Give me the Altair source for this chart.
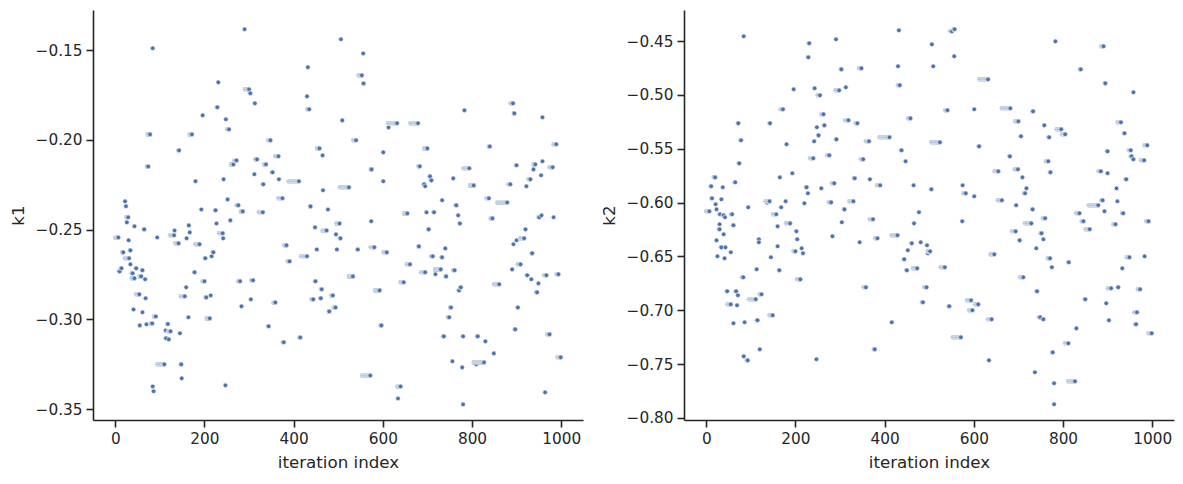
import altair as alt
import pandas as pd

# ---- k1 chain: run end iteration, value, run length ----
K1_END = [7, 84, 78, 143, 74, 22, 24, 29, 26, 43, 65, 94, 133, 132, 142, 30, 18, 34, 31, 34,
          14, 10, 47, 61, 39, 43, 58, 67, 54, 68, 41, 61, 91, 55, 70, 83, 118, 113, 124, 145,
          120, 114, 110, 148, 149, 84, 86, 156,
          290, 231, 300, 303, 313, 229, 196, 248, 255, 172, 272, 265, 318, 312, 180, 243, 252,
          276, 193, 225, 286, 331, 258, 227, 165, 167, 241, 160, 242, 189, 220, 216, 202, 178,
          200, 280, 309, 159, 204, 214, 304, 283, 164, 212, 247,
          506, 432, 430, 435, 509, 348, 458, 465, 366, 338, 353, 332, 412, 367, 466, 375, 438,
          477, 503, 448, 474, 495, 505, 452, 497, 384, 391, 430, 449, 463, 488, 444, 461, 494,
          480, 359, 344, 415, 378,
          556, 553, 557, 632, 679, 613, 540, 601, 575, 683, 601, 524, 693, 655, 574, 544, 581,
          609, 681, 661, 695, 533, 647, 593, 597, 572, 640, 634,
          783, 700, 840, 794, 706, 709, 758, 695, 804, 733, 838, 765, 698, 715, 769, 846, 773,
          703, 740, 712, 733, 730, 761, 718, 742, 861, 775, 771, 753, 749, 737, 780, 813, 830,
          849, 756, 778, 827, 810, 780,
          892, 895, 958, 989, 900, 942, 958, 938, 981, 955, 931, 922, 886, 879, 956, 951, 983,
          920, 917, 900, 893, 935, 909, 890, 924, 933, 967, 994, 949, 946, 903, 897, 974, 999,
          964]
K1_VAL = [-0.2544, -0.149, -0.197, -0.2059, -0.2149, -0.2343, -0.237, -0.2432, -0.246, -0.2482,
          -0.2499, -0.2544, -0.2505, -0.2532, -0.2577, -0.256, -0.2627, -0.2616, -0.266, -0.2694,
          -0.2716, -0.2733, -0.2716, -0.2727, -0.2744, -0.2772, -0.2761, -0.2777, -0.2861, -0.2883,
          -0.2945, -0.2961, -0.2984, -0.3034, -0.3028, -0.3023, -0.3026, -0.3062, -0.3067, -0.3078,
          -0.3112, -0.3106, -0.3251, -0.3251, -0.3329, -0.3374, -0.3401, -0.2872,
          -0.1384, -0.168, -0.1719, -0.1741, -0.1797, -0.1819, -0.1864, -0.1886, -0.1942, -0.197,
          -0.2115, -0.2137, -0.2109, -0.2192, -0.2231, -0.222, -0.2332, -0.2365, -0.2388, -0.2393,
          -0.2399, -0.2404, -0.2449, -0.2466, -0.2477, -0.2516, -0.2521, -0.2549, -0.2549, -0.2582,
          -0.2627, -0.2649, -0.266, -0.2738, -0.2788, -0.2788, -0.2783, -0.2822, -0.2878, -0.2867,
          -0.2889, -0.2928, -0.2989, -0.2995, -0.3368,
          -0.144, -0.1596, -0.1758, -0.183, -0.1892, -0.2003, -0.2048, -0.2087, -0.2092, -0.2137,
          -0.2181, -0.2248, -0.2231, -0.222, -0.2281, -0.2326, -0.2371, -0.2388, -0.2466, -0.2488,
          -0.2505, -0.2527, -0.2549, -0.2611, -0.2611, -0.2588, -0.2677, -0.2649, -0.2788, -0.2833,
          -0.2867, -0.2889, -0.2883, -0.2934, -0.2956, -0.2906, -0.3039, -0.3101, -0.3128,
          -0.1519, -0.1641, -0.1686, -0.1908, -0.1908, -0.1931, -0.2003, -0.207, -0.2165, -0.2148,
          -0.2231, -0.2265, -0.2248, -0.241, -0.2454, -0.2611, -0.2599, -0.2627, -0.2594, -0.2694,
          -0.2738, -0.2761, -0.2794, -0.2839, -0.3034, -0.3313, -0.3374, -0.3441,
          -0.1836, -0.2048, -0.2037, -0.2159, -0.2204, -0.2226, -0.2215, -0.2259, -0.2254, -0.2337,
          -0.2326, -0.2365, -0.2404, -0.2404, -0.2421, -0.2438, -0.2466, -0.2499, -0.2605, -0.2649,
          -0.2655, -0.2722, -0.2727, -0.2749, -0.2761, -0.2805, -0.2822, -0.2839, -0.2934, -0.2989,
          -0.3095, -0.3095, -0.3095, -0.3123, -0.319, -0.3234, -0.3268, -0.324, -0.3251, -0.3474,
          -0.1797, -0.1853, -0.1875, -0.2025, -0.2142, -0.2137, -0.212, -0.2165, -0.2153, -0.2198,
          -0.222, -0.2259, -0.2248, -0.2349, -0.2421, -0.2432, -0.2432, -0.2499, -0.2549, -0.256,
          -0.2582, -0.2632, -0.2694, -0.2722, -0.2755, -0.2777, -0.2755, -0.2749, -0.28, -0.285,
          -0.2934, -0.3056, -0.3084, -0.3212, -0.3407]
K1_RUN = [8, 1, 6, 2, 4, 1, 1, 5, 1, 1, 2, 1, 1, 10, 8, 1, 3, 2, 10, 1,
          2, 3, 2, 2, 3, 7, 4, 1, 8, 1, 1, 1, 5, 1, 1, 5, 2, 1, 6, 1,
          1, 2, 16, 2, 1, 1, 1, 10,
          1, 1, 10, 2, 1, 2, 1, 1, 5, 6, 6, 6, 5, 1, 1, 1, 1,
          5, 1, 2, 5, 10, 1, 1, 1, 1, 9, 1, 1, 10, 2, 1, 2, 2,
          5, 5, 5, 1, 2, 1, 1, 1, 1, 8, 1,
          1, 1, 1, 5, 1, 6, 6, 1, 8, 5, 3, 2, 24, 1, 1, 10, 2,
          1, 8, 1, 10, 1, 2, 1, 1, 6, 5, 14, 2, 2, 5, 5, 2, 5,
          2, 5, 2, 3, 3,
          1, 8, 2, 21, 18, 1, 7, 1, 3, 4, 1, 21, 2, 8, 1, 2, 9,
          8, 2, 8, 10, 10, 8, 11, 3, 19, 8, 1,
          1, 8, 3, 14, 2, 2, 1, 1, 9, 1, 6, 3, 1, 2, 1, 5, 2,
          2, 1, 5, 2, 14, 4, 1, 2, 12, 2, 2, 3, 4, 3, 1, 3, 1,
          1, 1, 1, 24, 1, 1,
          6, 2, 1, 7, 2, 5, 1, 1, 8, 1, 5, 1, 5, 23, 1, 3, 1,
          1, 10, 1, 1, 2, 7, 1, 2, 1, 6, 5, 1, 3, 2, 2, 6, 8,
          1]

# ---- k2 chain ----
K2_END = [84, 72, 143, 78, 74, 20, 11, 37, 65, 13, 34, 21, 23, 7, 31, 39, 42, 58, 94, 142,
          137, 30, 30, 61, 39, 23, 118, 118, 34, 43, 55, 25, 41, 145, 113, 83, 47, 67, 71, 111,
          124, 55, 69, 61, 86, 115, 120, 84, 93,
          231, 291, 229, 303, 196, 243, 298, 313, 255, 172, 263, 319, 248, 265, 252, 242, 292,
          180, 240, 276, 193, 165, 225, 228, 258, 287, 333, 178, 220, 280, 330, 168, 310, 157,
          304, 188, 160, 202, 283, 204, 160, 214, 217, 200, 164, 211, 149, 247,
          432, 506, 348, 430, 509, 434, 339, 458, 365, 411, 438, 447, 352, 367, 390, 465, 505,
          477, 466, 374, 344, 384, 429, 461, 481, 495, 502, 452, 497, 444, 450, 473, 358, 494,
          486, 416, 378,
          557, 551, 556, 632, 541, 601, 682, 524, 612, 681, 655, 575, 582, 601, 663, 574, 646,
          535, 594, 610, 545, 597, 640, 571, 634,
          783, 840, 733, 700, 758, 796, 805, 706, 769, 767, 699, 772, 709, 718, 715, 695, 732,
          837, 760, 729, 846, 860, 694, 752, 703, 756, 740, 771, 813, 775, 711, 742, 850, 749,
          756, 830, 812, 777, 737, 780, 827, 780,
          891, 895, 958, 930, 938, 989, 900, 952, 954, 958, 982, 885, 900, 942, 920, 889, 922,
          879, 893, 935, 918, 992, 949, 983, 933, 908, 924, 973, 897, 966, 903, 964, 999]
K2_VAL = [-0.4456, -0.5264, -0.5264, -0.5422, -0.5636, -0.5766, -0.5849, -0.5858, -0.5812, -0.5961,
          -0.597, -0.6016, -0.6063, -0.6081, -0.6109, -0.6118, -0.6137, -0.6109, -0.6044, -0.5988,
          -0.6002, -0.6202, -0.6248, -0.6211, -0.6295, -0.6351, -0.6341, -0.6369, -0.6416, -0.6416,
          -0.6462, -0.6499, -0.6518, -0.6508, -0.662, -0.6694, -0.6824, -0.6824, -0.6861, -0.6898,
          -0.6852, -0.6945, -0.6954, -0.7121, -0.7112, -0.7093, -0.7363, -0.7428, -0.7465,
          -0.4521, -0.4484, -0.4651, -0.4763, -0.4948, -0.4939, -0.4958, -0.493, -0.5004, -0.5134,
          -0.518, -0.5236, -0.5301, -0.5283, -0.5376, -0.5431, -0.5413, -0.5459, -0.5589, -0.5561,
          -0.5728, -0.5766, -0.5858, -0.5914, -0.5868, -0.5821, -0.5775, -0.5988, -0.6007, -0.5998,
          -0.5988, -0.6044, -0.6063, -0.6109, -0.6183, -0.6193, -0.6221, -0.6267, -0.6313, -0.6341,
          -0.6406, -0.6425, -0.6471, -0.6453, -0.6629, -0.6713, -0.7047, -0.7455,
          -0.4401, -0.4531, -0.4753, -0.4735, -0.4735, -0.4911, -0.5264, -0.5218, -0.5431, -0.5394,
          -0.5515, -0.5617, -0.5598, -0.5784, -0.584, -0.584, -0.5877, -0.609, -0.6193, -0.6155,
          -0.6369, -0.6332, -0.6304, -0.6378, -0.6369, -0.6397, -0.6453, -0.6443, -0.6471, -0.6527,
          -0.6629, -0.6611, -0.6787, -0.6787, -0.6926, -0.7112, -0.7363,
          -0.4391, -0.441, -0.4642, -0.4856, -0.5143, -0.5134, -0.5125, -0.5441, -0.5478, -0.5571,
          -0.571, -0.584, -0.5914, -0.5942, -0.5979, -0.6174, -0.6481, -0.6601, -0.6908, -0.6945,
          -0.6963, -0.7, -0.7084, -0.7251, -0.7465,
          -0.4503, -0.4763, -0.5153, -0.5246, -0.5283, -0.532, -0.5366, -0.5385, -0.5394, -0.5617,
          -0.5691, -0.5719, -0.5766, -0.5868, -0.5914, -0.6025, -0.6063, -0.61, -0.6146, -0.6193,
          -0.6174, -0.6248, -0.6267, -0.6285, -0.6351, -0.6341, -0.6425, -0.6518, -0.6555, -0.6601,
          -0.6694, -0.6824, -0.6898, -0.7065, -0.7084, -0.7168, -0.7307, -0.7391, -0.7576, -0.7678,
          -0.766, -0.7873,
          -0.4549, -0.4893, -0.4976, -0.5255, -0.5357, -0.5468, -0.5524, -0.5515, -0.5571, -0.5598,
          -0.5608, -0.571, -0.5728, -0.5784, -0.5868, -0.5979, -0.5988, -0.6025, -0.6081, -0.61,
          -0.6202, -0.6174, -0.6508, -0.6499, -0.6611, -0.6796, -0.6787, -0.6805, -0.6935, -0.7019,
          -0.7093, -0.713, -0.7214]
K2_RUN = [1, 2, 2, 2, 2, 4, 2, 1, 2, 2, 1, 1, 1, 8, 2, 2, 1, 3, 1, 10,
          1, 1, 3, 2, 1, 1, 1, 1, 2, 1, 1, 1, 1, 1, 1, 4, 2, 2, 1, 16,
          5, 8, 1, 1, 1, 3, 1, 1, 3,
          2, 1, 2, 2, 1, 1, 9, 1, 6, 6, 6, 8, 1, 2, 2, 1, 2,
          1, 8, 6, 1, 1, 2, 1, 1, 6, 3, 1, 1, 6, 10, 1, 2, 8,
          1, 10, 1, 1, 1, 1, 1, 1, 1, 5, 2, 8, 8, 1,
          1, 1, 6, 1, 1, 5, 5, 6, 8, 23, 2, 1, 6, 1, 8, 1, 2,
          1, 1, 8, 1, 6, 14, 2, 1, 1, 6, 1, 1, 2, 2, 10, 6, 6,
          3, 1, 3,
          3, 5, 1, 20, 6, 1, 20, 20, 2, 2, 9, 1, 6, 1, 10, 1, 9,
          10, 10, 8, 2, 8, 9, 19, 1,
          1, 3, 2, 8, 1, 11, 8, 2, 2, 6, 8, 2, 1, 1, 3, 1, 2,
          8, 6, 15, 5, 10, 9, 3, 2, 1, 1, 6, 2, 1, 8, 2, 2, 4,
          2, 1, 8, 2, 1, 1, 16, 1,
          6, 2, 1, 8, 2, 7, 2, 5, 3, 2, 8, 6, 1, 3, 1, 4, 1,
          22, 1, 3, 6, 6, 7, 1, 1, 8, 2, 6, 1, 7, 1, 3, 8]

X_TICKS = [0, 200, 400, 600, 800, 1000]
K1_TICKS = [-0.35, -0.30, -0.25, -0.20, -0.15]
K2_TICKS = [-0.80, -0.75, -0.70, -0.65, -0.60, -0.55, -0.50, -0.45]


def expand(ends, vals, runs, name):
    rows = []
    for e, v, r in zip(ends, vals, runs):
        for it in range(e - r + 1, e + 1):
            rows.append({"iteration index": it, name: v})
    df = pd.DataFrame(rows)
    return df.sort_values("iteration index", kind="stable").reset_index(drop=True)


df1 = expand(K1_END, K1_VAL, K1_RUN, "k1")
df2 = expand(K2_END, K2_VAL, K2_RUN, "k2")

BLUE = "#4c72b0"
W, H = 490, 410


def panel(df, name, ydom, yticks):
    return alt.Chart(df).mark_circle(
        size=21, color=BLUE, opacity=1, stroke="white", strokeWidth=0.55
    ).encode(
        x=alt.X("iteration index:Q",
                scale=alt.Scale(domain=[-49.95, 1048.95], nice=False, zero=False),
                axis=alt.Axis(values=X_TICKS, format="d", title="iteration index")),
        y=alt.Y(f"{name}:Q",
                scale=alt.Scale(domain=ydom, nice=False, zero=False),
                axis=alt.Axis(values=yticks, format=".2f", title=name)),
    ).properties(width=W, height=H)


left = panel(df1, "k1", [-0.3561, -0.1277], K1_TICKS)
right = panel(df2, "k2", [-0.8019, -0.4212], K2_TICKS)

chart = alt.hconcat(left, right, spacing=18).properties(
    padding={"left": 10, "top": 10, "right": 8, "bottom": 5},
    background="white",
).configure_view(stroke=None).configure_axis(
    grid=False,
    domainColor="#262626", domainWidth=1.6,
    tickColor="#262626", tickWidth=1.6, tickSize=7,
    labelColor="#262626", labelFont="DejaVu Sans", labelFontSize=15.3, labelPadding=4,
    titleColor="#262626", titleFont="DejaVu Sans", titleFontSize=16.7,
    titleFontWeight="normal", titlePadding=8,
)

chart.save("out.html", embed_options={"renderer": "svg", "actions": False})
